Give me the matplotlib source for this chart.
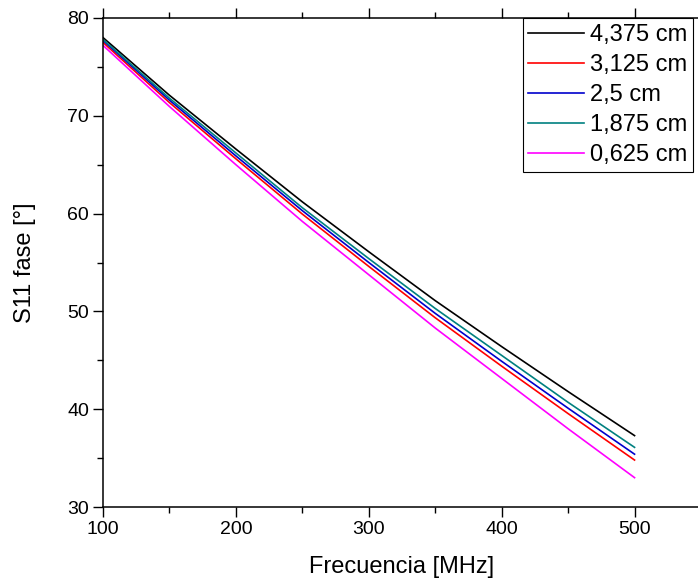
import matplotlib.pyplot as plt

plt.rcParams['font.family'] = ['Liberation Sans', 'DejaVu Sans']

# datos
frecuencia = [100, 150, 200, 250, 300, 350, 400, 450, 500]
fase_4375 = [78.0, 72.1, 66.6, 61.2, 56.1, 51.1, 46.4, 41.8, 37.3]
fase_3125 = [77.5, 71.35, 65.6, 59.95, 54.6, 49.35, 44.4, 39.55, 34.8]
fase_25 = [77.7, 71.6, 65.9, 60.3, 55.0, 49.8, 44.9, 40.1, 35.4]
fase_1875 = [77.8, 71.8, 66.2, 60.6, 55.4, 50.3, 45.5, 40.7, 36.1]
fase_0625 = [77.2, 70.95, 65.0, 59.2, 53.75, 48.3, 43.15, 38.0, 33.0]

etiquetas = ['4,375 cm', '3,125 cm', '2,5 cm', '1,875 cm', '0,625 cm']
colores = ['black', '#ff0000', '#0000cc', '#008080', '#ff00ff']

fig = plt.figure(figsize=(6.98, 5.82), dpi=100)
# el eje se sale un poco por la derecha, como en la original
ax = fig.add_axes([103 / 698, 75 / 582, 598 / 698, 489 / 582])

series = [fase_4375, fase_3125, fase_25, fase_1875, fase_0625]
for y, c, lab in zip(series, colores, etiquetas):
    ax.plot(frecuencia, y, color=c, lw=1.2, label=lab)

ax.set_xlim(100, 550)
ax.set_ylim(30, 80)
ax.set_xticks([100, 200, 300, 400, 500])
ax.set_xticks([150, 250, 350, 450], minor=True)
ax.set_yticks([30, 40, 50, 60, 70, 80])
ax.set_yticks([35, 45, 55, 65, 75], minor=True)

ax.tick_params(which='both', direction='out', top=True, right=False,
               labelsize=14, width=1)
ax.tick_params(which='major', length=7, pad=3)
ax.tick_params(which='minor', length=4)
for s in ax.spines.values():
    s.set_linewidth(1.1)

ax.set_xlabel('Frecuencia [MHz]', fontsize=17)
ax.set_ylabel('S11 fase [°]', fontsize=17)
ax.xaxis.set_label_coords(0.5, -0.100)
ax.yaxis.set_label_coords(-0.112, 0.5)

leg = ax.legend(loc='upper right', bbox_to_anchor=(693 / 698, 1 - 18 / 582),
                bbox_transform=fig.transFigure, fontsize=17, fancybox=False,
                framealpha=1, edgecolor='black', borderpad=0.25,
                labelspacing=0.34, handlelength=2.35, handletextpad=0.25,
                borderaxespad=0)
leg.get_frame().set_linewidth(0.8)

fig.savefig('out.png', dpi=100)
